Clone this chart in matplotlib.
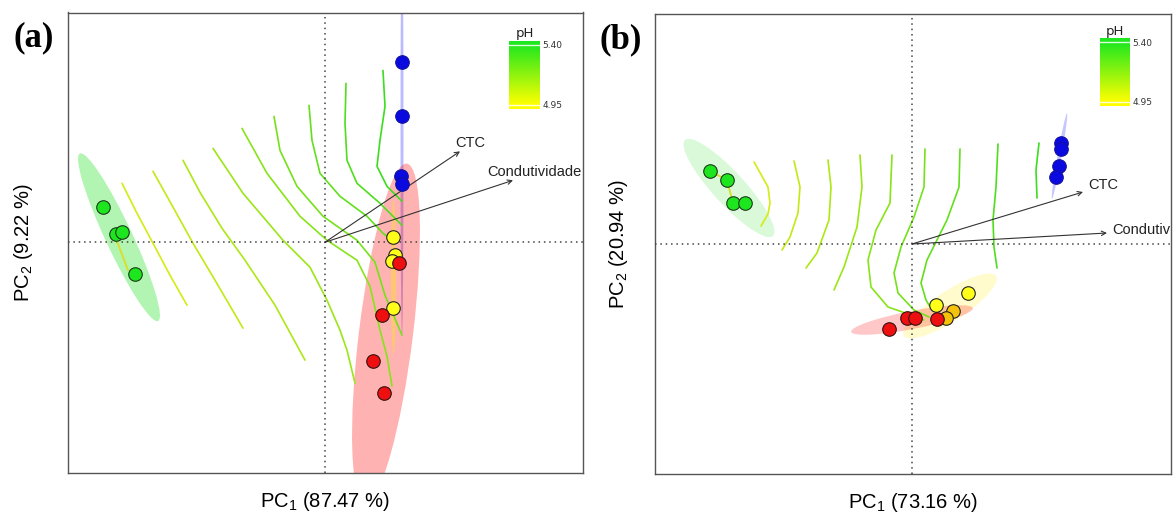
import numpy as np
import matplotlib.pyplot as plt
from matplotlib.patches import Ellipse
from matplotlib.colors import LinearSegmentedColormap, Normalize

plt.rcParams['font.family'] = 'Liberation Sans'
plt.rcParams['mathtext.fontset'] = 'custom'
plt.rcParams['mathtext.rm'] = 'Liberation Sans'
plt.rcParams['mathtext.default'] = 'regular'

# ---- panel (a): PCA scores per group ----
a_green = np.array([[-2.22, 0.35], [-2.09, 0.08], [-2.03, 0.10], [-1.90, -0.32]])
a_blue = np.array([[0.765, 1.80], [0.765, 1.26], [0.76, 0.66], [0.768, 0.58]])
a_yellow = np.array([[0.68, 0.05], [0.70, -0.13], [0.67, -0.19], [0.68, -0.66]])
a_red = np.array([[0.74, -0.21], [0.57, -0.73], [0.48, -1.19], [0.59, -1.51]])
a_link = np.array([[-2.08, 0.01], [-1.97, -0.28]])

# ellipses: centre x, centre y, major, minor, angle
a_ell_green = (-2.06, 0.05, 1.85, 0.27, -65)
a_ell_blue = (0.77, 1.09, 4.06, 0.03, 90)
a_ell_red = (0.61, -0.91, 3.42, 0.54, 83)
a_ell_yellow = (0.685, -0.35, 1.55, 0.05, 90)

# loadings
a_vars = ['CTC', 'Condutividade']
a_load = np.array([[1.35, 0.91], [1.88, 0.62]])
a_lab = np.array([[1.30, 0.99], [1.625, 0.70]])

# pH surface contours (ordisurf)
a_levels = [5.00, 5.05, 5.10, 5.15, 5.20, 5.25, 5.30, 5.35, 5.40]
a_contours = [
    np.array([[-2.03, 0.59], [-1.88, 0.29], [-1.72, -0.01], [-1.55, -0.33], [-1.38, -0.63]]),
    np.array([[-1.72, 0.71], [-1.53, 0.37], [-1.32, -0.01], [-1.10, -0.38], [-0.82, -0.86]]),
    np.array([[-1.42, 0.82], [-1.25, 0.50], [-1.03, 0.14], [-0.80, -0.18], [-0.50, -0.63], [-0.20, -1.18]]),
    np.array([[-1.12, 0.94], [-0.82, 0.49], [-0.42, 0.02], [-0.15, -0.25], [0.02, -0.58],
              [0.15, -0.88], [0.22, -1.08], [0.30, -1.41]]),
    np.array([[-0.83, 1.14], [-0.58, 0.69], [-0.25, 0.26], [0.02, 0.02], [0.32, -0.18],
              [0.45, -0.44], [0.55, -0.88], [0.62, -1.14], [0.67, -1.44]]),
    np.array([[-0.51, 1.26], [-0.45, 0.92], [-0.28, 0.56], [-0.02, 0.26], [0.32, 0.02],
              [0.50, -0.20], [0.60, -0.53], [0.77, -0.93]]),
    np.array([[-0.16, 1.37], [-0.13, 1.02], [-0.05, 0.69], [0.15, 0.46], [0.42, 0.26],
              [0.58, 0.09], [0.67, 0.02]]),
    np.array([[0.21, 1.59], [0.20, 1.19], [0.22, 0.82], [0.32, 0.59], [0.55, 0.39], [0.77, 0.17]]),
    np.array([[0.58, 1.72], [0.60, 1.36], [0.55, 1.02], [0.52, 0.76], [0.62, 0.56], [0.77, 0.41]]),
]

# ---- panel (b) ----
b_green = np.array([[-2.02, 0.73], [-1.85, 0.64], [-1.79, 0.41], [-1.67, 0.41]])
b_blue = np.array([[1.49, 1.01], [1.485, 0.95], [1.465, 0.785], [1.44, 0.675]])
b_yellow = np.array([[0.555, -0.49], [0.24, -0.61]])
b_orange = np.array([[0.41, -0.67], [0.335, -0.735]])
b_red = np.array([[-0.235, -0.85], [-0.055, -0.74], [0.025, -0.735], [0.245, -0.75]])
b_link = b_green[:3]

b_ell_green = (-1.83, 0.56, 1.30, 0.32, -47.5)
b_ell_blue = (1.475, 0.88, 0.87, 0.04, 80)
b_ell_red = (0.0, -0.76, 1.24, 0.18, 11)
b_ell_yellow = (0.38, -0.62, 1.10, 0.30, 33)

# the long label runs off the right edge of this panel
b_vars = ['CTC', 'Condutiv']
b_load = np.array([[1.71, 0.52], [1.95, 0.11]])
b_lab = np.array([[1.76, 0.59], [2.00, 0.14]])

b_levels = [5.00, 5.05, 5.10, 5.15, 5.20, 5.25, 5.30, 5.35, 5.40]
b_contours = [
    np.array([[-1.58, 0.82], [-1.49, 0.66], [-1.44, 0.57], [-1.42, 0.41], [-1.44, 0.30], [-1.51, 0.18]]),
    np.array([[-1.18, 0.83], [-1.12, 0.57], [-1.14, 0.31], [-1.22, 0.07], [-1.30, -0.06]]),
    np.array([[-0.84, 0.84], [-0.81, 0.57], [-0.83, 0.24], [-0.95, -0.09], [-1.06, -0.24]]),
    np.array([[-0.52, 0.89], [-0.50, 0.57], [-0.55, 0.17], [-0.68, -0.23], [-0.78, -0.46]]),
    np.array([[-0.20, 0.89], [-0.22, 0.41], [-0.36, 0.14], [-0.44, -0.16], [-0.41, -0.43],
              [-0.24, -0.63], [-0.01, -0.71], [0.12, -0.76]]),
    np.array([[0.13, 0.95], [0.12, 0.57], [0.02, 0.27], [-0.11, -0.03], [-0.18, -0.29],
              [-0.14, -0.49], [0.02, -0.66], [0.17, -0.73]]),
    np.array([[0.48, 0.95], [0.47, 0.57], [0.35, 0.24], [0.15, -0.16], [0.09, -0.39],
              [0.14, -0.56], [0.20, -0.66]]),
    np.array([[0.86, 1.00], [0.84, 0.57], [0.81, 0.24], [0.82, -0.03], [0.85, -0.24]]),
    np.array([[1.27, 1.01], [1.24, 0.74], [1.25, 0.46]]),
]

GREEN, BLUE, YELLOW, RED, ORANGE = '#1ee61e', '#0a0ae0', '#ffff1a', '#ee1010', '#f5c20a'
ph_cmap = LinearSegmentedColormap.from_list('ph', ['#ffff00', '#1ee81e'])
line_cmap = LinearSegmentedColormap.from_list('phline', ['#e6ee10', '#3cdc1e'])
ph_norm = Normalize(4.95, 5.40)


def add_ellipse(ax, e, color, alpha):
    ax.add_patch(Ellipse((e[0], e[1]), e[2], e[3], angle=e[4], facecolor=color,
                         edgecolor='none', alpha=alpha, zorder=1))


def draw_panel(ax, groups, ellipses, link, levels, contours, names, loads, labs):
    for e, c, al in ellipses:
        add_ellipse(ax, e, c, al)
    for lev, cc in zip(levels, contours):
        ax.plot(cc[:, 0], cc[:, 1], color=line_cmap(ph_norm(lev)), lw=1.2,
                solid_joinstyle='round', solid_capstyle='round', zorder=2)
    ax.axhline(0, color='#444444', lw=1.1, ls=(0, (1, 2.5)), zorder=3)
    ax.axvline(0, color='#444444', lw=1.1, ls=(0, (1, 2.5)), zorder=3)
    for (hx, hy), (tx, ty), nm in zip(loads, labs, names):
        ax.annotate('', xy=(hx, hy), xytext=(0, 0),
                    arrowprops=dict(arrowstyle='->', color='#333333', lw=0.8,
                                    shrinkA=0, shrinkB=0, mutation_scale=8), zorder=4)
        ax.text(tx, ty, nm, fontsize=10.5, ha='left', va='center', color='#222222',
                zorder=4)
    ax.plot(link[:, 0], link[:, 1], color='#d8e020', lw=1.3, zorder=4)
    for pts, fc, ec in groups:
        ax.scatter(pts[:, 0], pts[:, 1], s=95, facecolor=fc, edgecolor=ec,
                   linewidth=0.8, zorder=5)
    ax.set_xticks([])
    ax.set_yticks([])
    for sp in ax.spines.values():
        sp.set_color('#555555')
        sp.set_linewidth(1.0)


def add_colorbar(fig, rect):
    cax = fig.add_axes(rect)
    lo, hi = 4.918, 5.432
    grad = np.linspace(lo, hi, 256)[:, None]
    cax.imshow(grad, cmap=ph_cmap, norm=ph_norm, aspect='auto',
               extent=(0, 1, lo, hi), origin='lower')
    for v in (4.95, 5.40):
        cax.axhline(v, color='white', lw=1.0, alpha=0.85)
    cax.set_xlim(0, 1)
    cax.set_ylim(lo, hi)
    cax.set_xticks([])
    cax.yaxis.tick_right()
    cax.set_yticks([4.95, 5.40])
    cax.set_yticklabels(['4.95', '5.40'], fontsize=6.5, family='DejaVu Sans', color='#333333')
    cax.tick_params(axis='y', length=0, pad=2)
    for sp in cax.spines.values():
        sp.set_visible(False)
    cax.set_title('pH', fontsize=9.5, family='DejaVu Sans', pad=1, color='#222222')


fig = plt.figure(figsize=(11.73, 5.13), dpi=100)
W, H = 1173, 513

ax_a = fig.add_axes([68 / W, 1 - 473 / H, 515 / W, 460.5 / H])
draw_panel(ax_a,
           [(a_green, GREEN, '#1a3a1a'), (a_blue, BLUE, '#1010a0'),
            (a_yellow, YELLOW, '#222222'), (a_red, RED, '#331111')],
           [(a_ell_green, '#00dd00', 0.3), (a_ell_blue, '#2020ff', 0.3),
            (a_ell_red, '#ff0000', 0.3), (a_ell_yellow, '#ffee00', 0.35)],
           a_link, a_levels, a_contours, a_vars, a_load, a_lab)
ax_a.set_xlim(-2.57, 2.58)
ax_a.set_ylim(-2.31, 2.30)
ax_a.set_xlabel('PC$_1$ (87.47 %)', fontsize=14.5, labelpad=12)
ax_a.set_ylabel('PC$_2$ (9.22 %)', fontsize=14.5, labelpad=24)

ax_b = fig.add_axes([655 / W, 1 - 474 / H, 516 / W, 460 / H])
draw_panel(ax_b,
           [(b_green, GREEN, '#1a3a1a'), (b_blue, BLUE, '#1010a0'),
            (b_yellow, YELLOW, '#222222'), (b_orange, ORANGE, '#222222'),
            (b_red, RED, '#331111')],
           [(b_ell_green, '#00dd00', 0.15), (b_ell_blue, '#2020ff', 0.25),
            (b_ell_yellow, '#ffee00', 0.2), (b_ell_red, '#ff0000', 0.22)],
           b_link, b_levels, b_contours, b_vars, b_load, b_lab)
ax_b.set_xlim(-2.57, 2.59)
ax_b.set_ylim(-2.30, 2.30)
ax_b.set_xlabel('PC$_1$ (73.16 %)', fontsize=14.5, labelpad=12)
ax_b.set_ylabel('PC$_2$ (20.94 %)', fontsize=14.5, labelpad=18)

add_colorbar(fig, [509 / W, 1 - 109 / H, 31 / W, 68.5 / H])
add_colorbar(fig, [1100 / W, 1 - 106 / H, 29.5 / W, 68 / H])

fig.text(34 / W, 1 - 38 / H, '(a)', fontsize=25, fontweight='bold',
         family='Liberation Serif', ha='center', va='center')
fig.text(621 / W, 1 - 40 / H, '(b)', fontsize=25, fontweight='bold',
         family='Liberation Serif', ha='center', va='center')

fig.savefig('out.png', dpi=100)
